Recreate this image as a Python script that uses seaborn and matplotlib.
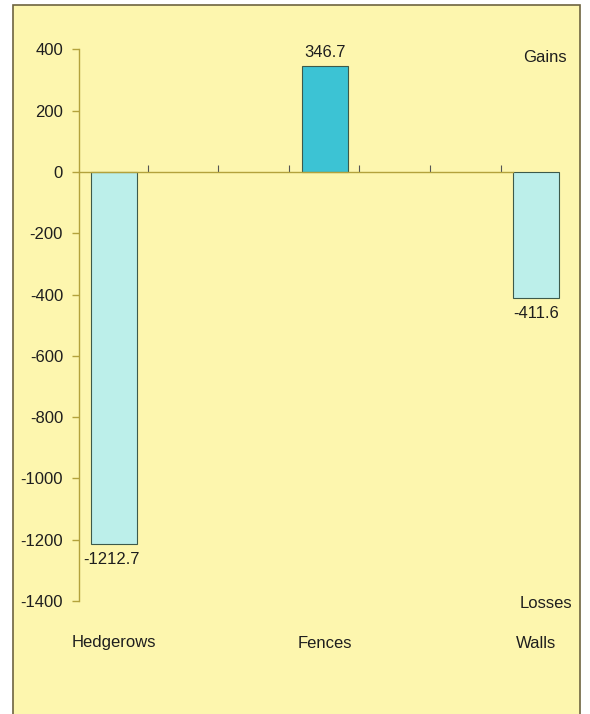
import matplotlib
matplotlib.use("Agg")
import matplotlib.pyplot as plt
import matplotlib.transforms as mtransforms
from matplotlib.patches import Rectangle
import pandas as pd
import seaborn as sns

# Net change in field boundaries
categories = ["Hedgerows", "Fences", "Walls"]
values = [-1212.7, 346.7, -411.6]
value_labels = ["-1212.7", "346.7", "-411.6"]
y_ticks = [400, 200, 0, -200, -400, -600, -800, -1000, -1200, -1400]
bar_colors = ["#bcefea", "#3cc3d4", "#bcefea"]

df = pd.DataFrame({"boundary": categories, "change": values})

sns.set_theme(style="white")
plt.rcParams["font.family"] = ["Liberation Sans", "DejaVu Sans"]

W, H = 590, 714
fig = plt.figure(figsize=(W / 100, H / 100), dpi=100, facecolor="white")

# pale yellow page with a thin frame, kept behind the axes
page = Rectangle((13 / W, -0.02), (580 - 13) / W, 1.02 - 5 / H,
                 transform=fig.transFigure, facecolor="#fdf6ae",
                 edgecolor="#6e6440", linewidth=1.2, zorder=-10)
fig.patches.append(page)

ax = fig.add_axes([79 / W, (H - 601) / H, (571 - 79) / W, (601 - 49.4) / H])
ax.set_facecolor("none")
ax.set_zorder(5)

sns.barplot(data=df, x="boundary", y="change", hue="boundary",
            palette=bar_colors, order=categories, hue_order=categories,
            width=0.222, saturation=1, edgecolor="#3d5a4a", linewidth=0.8,
            legend=False, ax=ax)

ax.set_ylim(-1400, 400)
ax.set_xlim(-0.166, 2.166)
ax.set_yticks(y_ticks)
ax.set_yticklabels([str(t) for t in y_ticks])
ax.set_xlabel("")
ax.set_ylabel("")

axis_col = "#b3a23c"
for s in ["top", "right"]:
    ax.spines[s].set_visible(False)
ax.spines["left"].set_color(axis_col)
ax.spines["left"].set_linewidth(1.0)
ax.spines["bottom"].set_position(("data", 0))
ax.spines["bottom"].set_color(axis_col)
ax.spines["bottom"].set_linewidth(1.0)
ax.spines["bottom"].set_bounds(-0.166, 1.89)

ax.tick_params(axis="y", left=True, direction="out", length=5, width=1.0,
               color=axis_col, pad=6.5, labelsize=12, labelcolor="#1e1e1e")
# small upward ticks along the zero line
zero_ticks = [0.159, 0.495, 0.831, 1.163, 1.5, 1.836]
ax.set_xticks(zero_ticks)
ax.set_xticklabels([""] * len(zero_ticks))
ax.tick_params(axis="x", bottom=True, direction="in", length=5, width=0.8,
               color="#555555")

# values beside each bar
label_dx = [-2, 0, 0]
for i, (v, lab) in enumerate(zip(values, value_labels)):
    if v >= 0:
        ax.annotate(lab, (i, v), xytext=(label_dx[i], 4),
                    textcoords="offset points", ha="center", va="bottom",
                    fontsize=12, color="#1e1e1e")
    else:
        ax.annotate(lab, (i, v), xytext=(label_dx[i], -6),
                    textcoords="offset points", ha="center", va="top",
                    fontsize=12, color="#1e1e1e")

# category names below the plot
trans = mtransforms.blended_transform_factory(ax.transData, fig.transFigure)
for i, name in enumerate(categories):
    fig.text(i, 1 - 643 / H, name, transform=trans, ha="center", va="center",
             fontsize=12, color="#1e1e1e")

fig.text(567 / W, 1 - 57 / H, "Gains", ha="right", va="center",
         fontsize=12, color="#1e1e1e")
fig.text(572 / W, 1 - 604 / H, "Losses", ha="right", va="center",
         fontsize=12, color="#1e1e1e")

fig.savefig("out.png", dpi=100, facecolor=fig.get_facecolor())
